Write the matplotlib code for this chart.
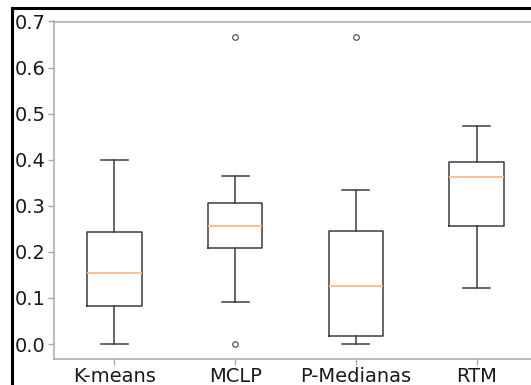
import matplotlib
matplotlib.use("Agg")
import matplotlib.pyplot as plt
from matplotlib.lines import Line2D

# ---------------- DATA ----------------
methods = ["K-means", "MCLP", "P-Medianas", "RTM"]
whisker_low = [0.0, 0.091, 0.0, 0.121]
q1 = [0.083, 0.209, 0.018, 0.257]
medians = [0.155, 0.256, 0.125, 0.362]
q3 = [0.243, 0.306, 0.246, 0.396]
whisker_high = [0.400, 0.365, 0.334, 0.473]
outliers = [[], [0.0, 0.667], [0.667], []]

stats = []
for i, name in enumerate(methods):
    stats.append({
        "label": name,
        "whislo": whisker_low[i],
        "q1": q1[i],
        "med": medians[i],
        "q3": q3[i],
        "whishi": whisker_high[i],
        "fliers": outliers[i],
    })

# ---------------- FIGURE ----------------
W, H = 531, 385
fig = plt.figure(figsize=(W / 100, H / 100), dpi=100)
# axes run past the right edge, the reference is cropped there
left, right, top, bottom = 54, 537, 21.5, 359.4
ax = fig.add_axes([left / W, 1 - bottom / H, (right - left) / W, (bottom - top) / H])

box_col = "#3c3c3c"
ax.bxp(stats, positions=[1, 2, 3, 4], widths=0.45,
       boxprops=dict(color=box_col, linewidth=1.1),
       whiskerprops=dict(color=box_col, linewidth=1.1),
       capprops=dict(color=box_col, linewidth=1.1),
       medianprops=dict(color="#ffb788", linewidth=1.3),
       flierprops=dict(marker="o", markersize=4, markerfacecolor="none",
                       markeredgecolor="#555555", markeredgewidth=0.9))

ax.set_xlim(0.5, 4.5)
ax.set_ylim(-0.0333, 0.7)
ax.set_yticks([0.0, 0.1, 0.2, 0.3, 0.4, 0.5, 0.6, 0.7])
ax.set_yticklabels(["0.0", "0.1", "0.2", "0.3", "0.4", "0.5", "0.6", "0.7"])

for s in ax.spines.values():
    s.set_color("#a8a8a8")
    s.set_linewidth(1.1)
ax.tick_params(axis="both", labelsize=14, colors="#a8a8a8", labelcolor="#1a1a1a",
               length=4, width=1)
ax.tick_params(axis="y", pad=2)
ax.tick_params(axis="x", pad=1.5)

# black frame around the figure (cropped page border)
fig.add_artist(Line2D([11.5 / W, 11.5 / W], [0, 1 - 7.5 / H], color="black",
                      linewidth=2.2, transform=fig.transFigure))
fig.add_artist(Line2D([11.5 / W, 1], [1 - 7.5 / H, 1 - 7.5 / H], color="black",
                      linewidth=2.2, transform=fig.transFigure))

fig.savefig("out.png", dpi=100)
